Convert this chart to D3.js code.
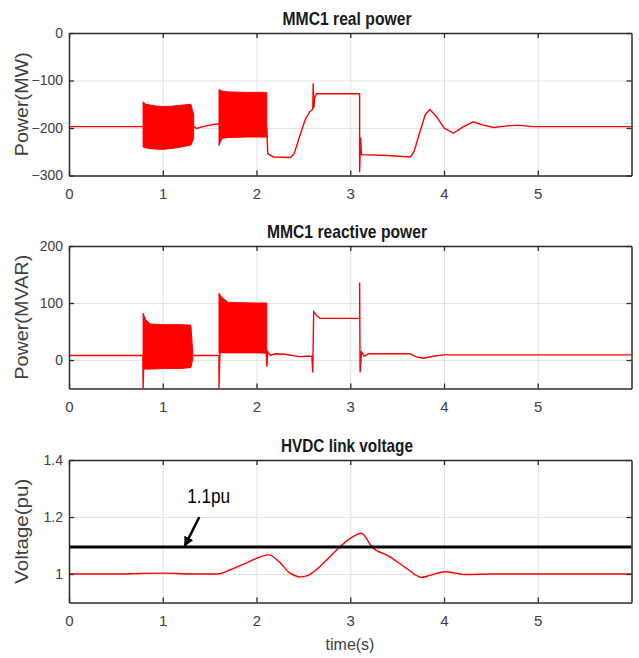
<!DOCTYPE html>
<html>
<head>
<meta charset="utf-8">
<script src="https://cdn.jsdelivr.net/npm/d3@7"></script>
<style>
  body { margin: 0; background: #fff; }
  svg { display: block; font-family: "Liberation Sans", Arial, sans-serif; }
</style>
</head>
<body>
<svg width="639" height="658"></svg>
<script>
// values
const xTicks = [0, 1, 2, 3, 4, 5];

// MMC1 real power (MW): [t, value]
const realPowerLine = [
  [0, -197], [0.79, -197], [1.0, -197], [1.33, -196], [1.36, -201], [1.45, -196], [1.59, -191], [1.60, -191],
  [1.9, -172], [2.11, -200], [2.12, -254], [2.18, -261], [2.36, -262], [2.40, -255], [2.46, -218],
  [2.52, -182], [2.57, -165], [2.60, -161], [2.605, -106], [2.612, -158], [2.62, -136], [2.64, -128],
  [3.10, -128], [3.10, -293], [3.11, -220], [3.12, -256], [3.40, -258], [3.64, -261], [3.68, -250],
  [3.74, -210], [3.80, -172], [3.85, -161], [3.92, -176], [4.00, -200], [4.10, -211], [4.20, -198],
  [4.31, -187], [4.42, -194], [4.53, -199], [4.65, -196], [4.78, -194], [4.95, -197], [6, -197]
];
// oscillation envelopes: [t, low, high]
const realPowerBursts = [
  [[0.79, -240, -145], [0.82, -242, -150], [0.9, -244, -153], [1.0, -245, -155], [1.1, -243, -154],
   [1.2, -240, -152], [1.3, -236, -150], [1.33, -222, -172]],
  [[1.60, -237, -119], [1.63, -222, -122], [1.7, -220, -124], [1.9, -219, -125], [2.1, -219, -125], [2.11, -219, -125]]
];

// MMC1 reactive power (MVAR)
const reactivePowerLine = [
  [0, 8], [0.79, 8], [0.79, -50], [0.80, 8], [1.32, 8], [1.6, 8], [1.60, -50], [1.61, 13],
  [2.105, 13], [2.11, -12], [2.12, 15], [2.15, 8], [2.2, 11], [2.3, 10], [2.46, 6], [2.59, 7], [2.60, -22],
  [2.61, 85], [2.64, 78], [2.68, 73], [3.10, 73], [3.10, 136], [3.105, -22], [3.12, 14], [3.15, 7],
  [3.2, 11], [3.64, 11], [3.71, 5], [3.78, 3], [3.9, 7], [4.0, 9], [6, 9]
];
const reactivePowerBursts = [
  [[0.79, -16, 82], [0.82, -16, 70], [0.87, -16, 63], [1.0, -15, 62], [1.2, -15, 62], [1.30, -13, 61], [1.32, 2, 14]],
  [[1.60, 13, 117], [1.63, 13, 110], [1.7, 13, 101], [2.0, 13, 100], [2.11, 12, 100]]
];

// HVDC link voltage (pu)
const voltageLine = [
  [0, 1.0], [0.5, 1.0], [1.0, 1.003], [1.3, 1.0], [1.59, 1.0], [1.7, 1.012], [1.9, 1.04], [2.13, 1.067],
  [2.25, 1.04], [2.35, 1.005], [2.48, 0.99], [2.55, 0.995], [2.61, 1.008], [2.72, 1.04], [2.82, 1.073],
  [3.0, 1.125], [3.12, 1.143], [3.23, 1.096], [3.42, 1.061], [3.6, 1.02], [3.76, 0.988], [3.85, 0.995],
  [4.01, 1.008], [4.12, 1.003], [4.24, 0.998], [4.5, 1.0], [6, 1.0]
];
const voltageLimit = 1.095;

const titles = ["MMC1 real power", "MMC1 reactive power", "HVDC link voltage"];
const yLabels = ["Power(MW)", "Power(MVAR)", "Voltage(pu)"];
const yDomains = [[-300, 0], [-50, 200], [0.9, 1.4]];
const yTickValues = [[0, -100, -200, -300], [0, 100, 200], [1, 1.2, 1.4]];

const svg = d3.select("svg");
const left = 69, right = 631.5;
const tops = [33, 246, 460];
const plotH = 142.5;
const titleWidths = [129, 160, 132];
const labelWidths = [104, 125, 105];

const x = d3.scaleLinear().domain([0, 6]).range([left, right]);

const panels = [
  { line: realPowerLine, bursts: realPowerBursts, curve: d3.curveLinear },
  { line: reactivePowerLine, bursts: reactivePowerBursts, curve: d3.curveLinear },
  { line: voltageLine, bursts: [], curve: d3.curveMonotoneX }
];

panels.forEach((p, i) => {
  const top = tops[i], bottom = top + plotH;
  const y = d3.scaleLinear().domain(yDomains[i]).range([bottom, top]);
  const g = svg.append("g");

  // grid
  g.append("g").attr("transform", `translate(0,${bottom})`)
    .call(d3.axisBottom(x).tickValues(xTicks).tickSize(-plotH).tickFormat(""))
    .call(s => s.select(".domain").remove())
    .selectAll("line").attr("stroke", "#e3e3e3");
  g.append("g").attr("transform", `translate(${left},0)`)
    .call(d3.axisLeft(y).tickValues(yTickValues[i]).tickSize(-(right - left)).tickFormat(""))
    .call(s => s.select(".domain").remove())
    .selectAll("line").attr("stroke", "#e3e3e3");

  // data
  const clipId = "clip" + i;
  svg.append("clipPath").attr("id", clipId).append("rect")
    .attr("x", left).attr("y", top).attr("width", right - left).attr("height", plotH);
  const dg = g.append("g").attr("clip-path", `url(#${clipId})`);

  const area = d3.area().x(d => x(d[0])).y0(d => y(d[1])).y1(d => y(d[2]));
  dg.selectAll("path.burst").data(p.bursts).enter().append("path")
    .attr("class", "burst")
    .attr("d", area)
    .attr("fill", "#ff0000")
    .attr("stroke", "#ff0000")
    .attr("stroke-width", 1);

  const line = d3.line().x(d => x(d[0])).y(d => y(d[1])).curve(p.curve);
  dg.append("path").datum(p.line)
    .attr("d", line)
    .attr("fill", "none")
    .attr("stroke", "#ff0000")
    .attr("stroke-width", 1.4);

  if (i === 2) {
    g.append("line")
      .attr("x1", x(0)).attr("x2", x(6))
      .attr("y1", y(voltageLimit)).attr("y2", y(voltageLimit))
      .attr("stroke", "#000").attr("stroke-width", 3);
  }

  // axes with inner ticks on all sides
  const axisStyle = s => {
    s.select(".domain").attr("stroke", "#2b2b2b").attr("stroke-width", 1.5);
    s.selectAll(".tick line").attr("stroke", "#2b2b2b").attr("stroke-width", 1.3);
    s.selectAll("text").attr("fill", "#404040").attr("font-family", "Liberation Sans, Arial, sans-serif");
  };
  g.append("g").attr("transform", `translate(0,${bottom})`)
    .call(d3.axisBottom(x).tickValues(xTicks).tickSizeInner(-5).tickSizeOuter(0).tickPadding(12.5).tickFormat(d3.format("d")))
    .call(axisStyle)
    .selectAll("text").attr("font-size", 15);
  g.append("g").attr("transform", `translate(0,${top})`)
    .call(d3.axisTop(x).tickValues(xTicks).tickSizeInner(-5).tickSizeOuter(0).tickFormat(""))
    .call(axisStyle);
  g.append("g").attr("transform", `translate(${left},0)`)
    .call(d3.axisLeft(y).tickValues(yTickValues[i]).tickSizeInner(-5).tickSizeOuter(0).tickPadding(6).tickFormat(d3.format("~g")))
    .call(axisStyle)
    .selectAll("text").attr("font-size", 14);
  g.append("g").attr("transform", `translate(${right},0)`)
    .call(d3.axisRight(y).tickValues(yTickValues[i]).tickSizeInner(-5).tickSizeOuter(0).tickFormat(""))
    .call(axisStyle);

  // title
  svg.append("text")
    .attr("x", 347).attr("y", top - 8)
    .attr("text-anchor", "middle")
    .attr("font-size", 19).attr("font-weight", "bold").attr("fill", "#1a1a1a")
    .attr("textLength", titleWidths[i]).attr("lengthAdjust", "spacingAndGlyphs")
    .text(titles[i]);

  // y label
  svg.append("text")
    .attr("transform", `translate(28,${(top + bottom) / 2}) rotate(-90)`)
    .attr("text-anchor", "middle")
    .attr("font-size", 18).attr("fill", "#404040")
    .attr("textLength", labelWidths[i]).attr("lengthAdjust", "spacingAndGlyphs")
    .text(yLabels[i]);

  if (i === 2) {
    // annotation arrow for the 1.1 pu limit
    const defs = svg.append("defs");
    defs.append("marker").attr("id", "arrow")
      .attr("viewBox", "0 0 10 10").attr("refX", 9).attr("refY", 5)
      .attr("markerWidth", 4).attr("markerHeight", 4).attr("orient", "auto")
      .append("path").attr("d", "M0,0 L10,5 L0,10 z").attr("fill", "#000");
    g.append("line")
      .attr("x1", x(1.39)).attr("y1", y(1.2))
      .attr("x2", x(1.235)).attr("y2", y(voltageLimit) - 1)
      .attr("stroke", "#000").attr("stroke-width", 2.5)
      .attr("marker-end", "url(#arrow)");
    g.append("text")
      .attr("x", x(1.26)).attr("y", y(1.248))
      .attr("font-size", 20).attr("fill", "#000")
      .attr("textLength", 43).attr("lengthAdjust", "spacingAndGlyphs")
      .text("1.1pu");

    svg.append("text")
      .attr("x", 350).attr("y", 650)
      .attr("text-anchor", "middle")
      .attr("font-size", 16).attr("fill", "#404040")
      .text("time(s)");
  }
});
</script>
</body>
</html>
